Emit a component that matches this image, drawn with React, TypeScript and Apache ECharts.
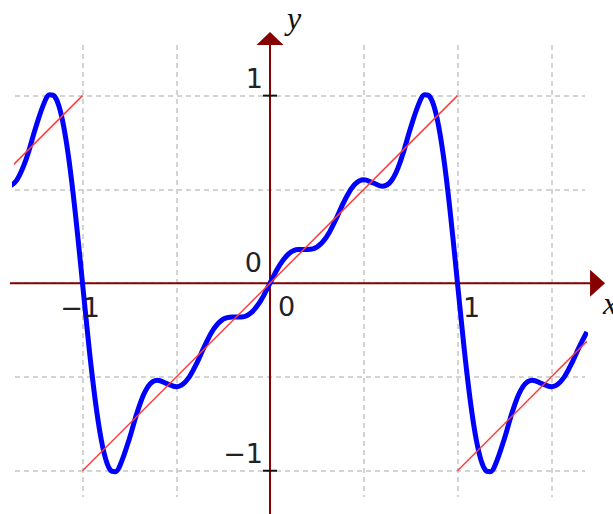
import React, { useEffect, useRef } from "react";
import * as echarts from "echarts";

// Blue curve (partial Fourier sum of the sawtooth)
const curveX = [
  -1.387, -1.35, -1.3, -1.25, -1.2, -1.175, -1.15, -1.125, -1.1, -1.075, -1.05, -1.025, -1,
  -0.975, -0.95, -0.925, -0.9, -0.875, -0.85, -0.825, -0.8,
  -0.75, -0.7, -0.65, -0.6, -0.55, -0.5, -0.45, -0.4, -0.35, -0.3, -0.25, -0.2, -0.15, -0.1, -0.05,
  0,
  0.05, 0.1, 0.15, 0.2, 0.25, 0.3, 0.35, 0.4, 0.45, 0.5, 0.55, 0.6, 0.65, 0.7, 0.75, 0.8,
  0.825, 0.85, 0.875, 0.9, 0.925, 0.95, 0.975, 1,
  1.025, 1.05, 1.075, 1.1, 1.125, 1.15, 1.175, 1.2,
  1.25, 1.3, 1.35, 1.4, 1.45, 1.5, 1.55, 1.6, 1.65, 1.69,
];
const curveY = [
  0.518, 0.55, 0.663, 0.829, 0.972, 1.005, 0.998, 0.942, 0.834, 0.677, 0.478, 0.247, 0,
  -0.247, -0.478, -0.677, -0.834, -0.942, -0.998, -1.005, -0.972,
  -0.829, -0.663, -0.55, -0.517, -0.535, -0.552, -0.525, -0.445, -0.338, -0.244, -0.192, -0.18, -0.18, -0.157, -0.094,
  0,
  0.094, 0.157, 0.18, 0.18, 0.192, 0.244, 0.338, 0.445, 0.525, 0.552, 0.535, 0.517, 0.55, 0.663, 0.829, 0.972,
  1.005, 0.998, 0.942, 0.834, 0.677, 0.478, 0.247, 0,
  -0.247, -0.478, -0.677, -0.834, -0.942, -0.998, -1.005, -0.972,
  -0.829, -0.663, -0.55, -0.517, -0.535, -0.552, -0.525, -0.445, -0.338, -0.26,
];

// Red sawtooth segments
const sawLeftX = [-1.387, -1];
const sawLeftY = [0.613, 1];
const sawMidX = [-1, 1];
const sawMidY = [-1, 1];
const sawRightX = [1, 1.69];
const sawRightY = [-1, -0.31];

// Ticks and labels
const xTickValues = [-1, 1];
const xTickLabels = ["\u22121", "1"];
const yTickValues = [-1, 1];
const yTickLabels = ["\u22121", "1"];
const originLabels = ["0", "0"];
const axisNames = ["x", "y"];

// Extents (data units)
const gridXRange = [-1.36, 1.68];
const gridYRange = [-1.14, 1.27];
const xAxisRange = [-1.387, 1.787];
const yAxisRange = [-1.236, 1.339];

const zip = (xs: number[], ys: number[]) => xs.map((x, i) => [x, ys[i]]);

export default function App() {
  const ref = useRef<HTMLDivElement>(null);

  useEffect(() => {
    if (!ref.current) return;
    const chart = echarts.init(ref.current, undefined, { renderer: "svg" });

    const redStyle = { color: "#ff3a3a", width: 1.5 };
    const redSeries = (data: number[][]) => ({
      type: "line",
      data,
      symbol: "none",
      clip: false,
      silent: true,
      z: 4,
      lineStyle: redStyle,
    });

    chart.setOption({
      animation: false,
      grid: { left: 15, right: 28, top: 45, bottom: 17, containLabel: false },
      xAxis: {
        type: "value",
        min: gridXRange[0],
        max: gridXRange[1],
        axisLine: { show: false },
        axisTick: { show: false },
        axisLabel: { show: false },
        splitLine: {
          show: true,
          showMinLine: false,
          showMaxLine: false,
          lineStyle: { color: "#c6c6c6", width: 1.5, type: [5, 4] },
        },
      },
      yAxis: {
        type: "value",
        min: gridYRange[0],
        max: gridYRange[1],
        axisLine: { show: false },
        axisTick: { show: false },
        axisLabel: { show: false },
        splitLine: {
          show: true,
          showMinLine: false,
          showMaxLine: false,
          lineStyle: { color: "#c6c6c6", width: 1.5, type: [5, 4] },
        },
      },
      series: [
        {
          type: "line",
          data: zip(curveX, curveY),
          smooth: 0.4,
          symbol: "none",
          clip: false,
          silent: true,
          z: 3,
          lineStyle: { color: "#0000ff", width: 5 },
        },
        redSeries(zip(sawLeftX, sawLeftY)),
        redSeries(zip(sawMidX, sawMidY)),
        redSeries(zip(sawRightX, sawRightY)),
      ],
    });

    const toPx = (x: number, y: number) =>
      chart.convertToPixel({ gridIndex: 0 }, [x, y]) as number[];

    const axisColor = "#870000";
    const numFont = '27px "DejaVu Sans"';
    const nameFont = 'italic 32px "Liberation Serif"';
    const textColor = "#222";

    const xl = toPx(xAxisRange[0], 0);
    const xr = toPx(xAxisRange[1], 0);
    const yb = toPx(0, yAxisRange[0]);
    const yt = toPx(0, yAxisRange[1]);
    const o = toPx(0, 0);
    const arrowXLen = 15;
    const arrowYLen = 13;
    const arrowHalf = 13.5;

    const elements: any[] = [
      {
        type: "line",
        z: 1,
        shape: { x1: xl[0], y1: xl[1], x2: xr[0] - arrowXLen + 1, y2: xr[1] },
        style: { stroke: axisColor, lineWidth: 2 },
      },
      {
        type: "polygon",
        z: 1,
        shape: {
          points: [
            [xr[0], xr[1]],
            [xr[0] - arrowXLen, xr[1] - arrowHalf],
            [xr[0] - arrowXLen, xr[1] + arrowHalf],
          ],
        },
        style: { fill: axisColor },
      },
      {
        type: "line",
        z: 1,
        shape: { x1: yb[0], y1: yb[1], x2: yt[0], y2: yt[1] + arrowYLen - 1 },
        style: { stroke: axisColor, lineWidth: 2 },
      },
      {
        type: "polygon",
        z: 1,
        shape: {
          points: [
            [yt[0], yt[1]],
            [yt[0] - arrowHalf, yt[1] + arrowYLen],
            [yt[0] + arrowHalf, yt[1] + arrowYLen],
          ],
        },
        style: { fill: axisColor },
      },
    ];

    yTickValues.forEach((v, i) => {
      const p = toPx(0, v);
      elements.push({
        type: "line",
        z: 2,
        shape: { x1: p[0] - 7, y1: p[1], x2: p[0] + 7, y2: p[1] },
        style: { stroke: "#111", lineWidth: 2 },
      });
      elements.push({
        type: "text",
        z: 5,
        x: p[0] - 7,
        y: p[1] - 17.5,
        style: { text: yTickLabels[i], font: numFont, fill: textColor, align: "right", verticalAlign: "middle" },
      });
    });

    xTickValues.forEach((v, i) => {
      const p = toPx(v, 0);
      elements.push({
        type: "line",
        z: 2,
        shape: { x1: p[0], y1: p[1] - 7, x2: p[0], y2: p[1] + 7 },
        style: { stroke: "#111", lineWidth: 2 },
      });
      const neg = v < 0;
      elements.push({
        type: "text",
        z: 5,
        x: neg ? p[0] + 17.5 : p[0] + 5.5,
        y: p[1] + 24,
        style: {
          text: xTickLabels[i],
          font: numFont,
          fill: textColor,
          align: neg ? "right" : "left",
          verticalAlign: "middle",
        },
      });
    });

    elements.push({
      type: "text",
      z: 5,
      x: o[0] - 8,
      y: o[1] - 21,
      style: { text: originLabels[0], font: numFont, fill: textColor, align: "right", verticalAlign: "middle" },
    });
    elements.push({
      type: "text",
      z: 5,
      x: o[0] + 8,
      y: o[1] + 23,
      style: { text: originLabels[1], font: numFont, fill: textColor, align: "left", verticalAlign: "middle" },
    });

    elements.push({
      type: "text",
      z: 5,
      x: xr[0] - 2,
      y: o[1] + 20,
      style: { text: axisNames[0], font: nameFont, fill: "#111", align: "left", verticalAlign: "middle" },
    });
    elements.push({
      type: "text",
      z: 5,
      x: yt[0] + 24,
      y: yt[1] - 14,
      style: { text: axisNames[1], font: nameFont, fill: "#111", align: "center", verticalAlign: "middle" },
    });

    chart.setOption({ graphic: { elements } });

    return () => chart.dispose();
  }, []);

  return (
    <div
      ref={ref}
      style={{ position: "fixed", left: 0, top: 0, width: 613, height: 514, background: "#fff" }}
    />
  );
}
